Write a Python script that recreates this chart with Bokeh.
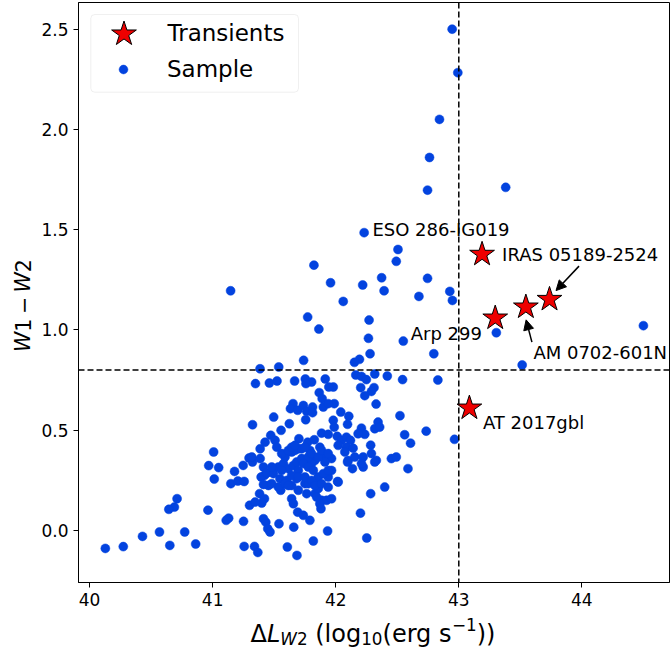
import math
from bokeh.plotting import figure
from bokeh.layouts import row, column
from bokeh.models import (Span, Label, Legend, LegendItem, BoxAnnotation, Arrow,
                          NormalHead, Range1d, FixedTicker, PrintfTickFormatter)
from bokeh.embed import file_html
from bokeh.resources import INLINE

# ---------------- data ----------------
sample_dL = [
    42.946, 42.992, 42.843, 42.762, 42.746, 43.381, 42.231, 42.506, 42.492, 41.823,
    41.146, 41.958, 42.219, 42.373, 42.393, 42.746, 42.676, 42.927, 42.948, 42.061,
    41.772, 41.863, 42.271, 42.266, 42.549, 42.279, 42.797, 41.739, 42.193, 42.152,
    41.385, 41.537, 44.500, 43.305, 43.515, 42.163, 42.209, 42.249, 42.317, 42.419,
    42.543, 42.830, 42.203, 42.311, 42.290, 42.236, 42.328, 41.980, 41.988, 42.041,
    42.106, 42.522, 41.980, 41.988, 42.096, 42.344, 42.317, 42.357, 42.209, 42.236,
    42.735, 42.560, 42.608, 42.965, 42.284, 41.348, 41.461, 41.523, 41.666, 41.753,
    41.804, 41.758, 41.915, 41.944, 41.866, 41.890, 41.899, 41.939, 41.653, 41.632,
    41.691, 41.737, 41.764, 41.812, 41.812, 41.756, 41.324, 41.496, 41.556, 41.623,
    41.472, 41.507, 41.521, 41.426, 41.386, 41.008, 40.968, 41.049, 41.013, 41.178,
    41.148, 41.205, 41.256, 41.296, 41.324, 41.248, 41.413, 41.421, 41.394, 41.453,
    41.413, 41.553, 41.381, 41.421, 41.399, 41.300, 41.345, 40.711, 40.689, 40.644,
    40.962, 41.130, 41.110, 41.251, 41.413, 41.432, 41.539, 41.448, 41.466, 40.568,
    40.430, 40.773, 40.652, 40.862, 40.274, 40.128, 41.256, 41.340, 41.367, 41.440,
    41.494, 41.534, 41.575, 41.615, 41.656, 41.696, 41.547, 41.602, 41.642, 41.683,
    41.480, 41.642, 41.656, 41.691, 41.659, 41.607, 41.685, 41.588, 41.642, 41.696,
    41.683, 41.885, 41.939, 42.012, 42.047, 42.087, 42.120, 42.020, 42.087, 42.141,
    41.701, 41.772, 41.826, 41.669, 41.723, 41.790, 41.871, 41.912, 41.966, 41.831,
    41.778, 41.723, 42.074, 42.101, 42.155, 42.223, 42.290, 42.330, 42.452, 42.492,
    42.136, 42.223, 41.804, 41.912, 41.966, 41.939, 42.020, 42.096, 42.209, 42.317,
    42.587, 42.398, 42.284, 42.201, 42.252, 41.934, 41.818, 41.750, 41.764, 41.831,
    41.858, 41.885, 41.926, 41.966, 41.880, 41.737, 41.790, 42.182, 42.015, 41.871,
    41.845, 41.845, 41.778, 41.534, 41.588, 41.561, 41.615, 41.642, 41.669, 41.750,
    41.777, 41.804, 41.858, 41.885, 41.939, 41.737, 41.777, 41.818, 41.858, 41.899,
    41.939, 41.561, 41.642, 41.696, 41.750, 41.804, 41.831, 41.885, 41.939, 41.480,
    41.615, 41.696, 41.318, 41.386,
]
sample_w12 = [
    2.500, 2.283, 2.050, 1.860, 1.697, 1.711, 1.485, 1.401, 1.342, 1.323,
    1.195, 1.235, 1.224, 1.260, 1.195, 1.257, 1.167, 1.192, 1.147, 1.142,
    1.064, 1.004, 1.049, 0.958, 0.944, 0.881, 0.881, 0.848, 0.853, 0.838,
    0.806, 0.815, 1.021, 0.986, 0.825, 0.775, 0.768, 0.752, 0.780, 0.770,
    0.752, 0.750, 0.712, 0.712, 0.693, 0.672, 0.630, 0.715, 0.632, 0.590,
    0.569, 0.572, 0.549, 0.515, 0.529, 0.540, 0.507, 0.515, 0.510, 0.479,
    0.495, 0.477, 0.435, 0.454, 0.425, 0.732, 0.735, 0.745, 0.745, 0.755,
    0.740, 0.732, 0.755, 0.715, 0.687, 0.657, 0.615, 0.632, 0.632, 0.607,
    0.599, 0.623, 0.594, 0.615, 0.587, 0.552, 0.527, 0.565, 0.499, 0.532,
    0.474, 0.449, 0.415, 0.440, 0.407, 0.391, 0.323, 0.313, 0.256, 0.294,
    0.233, 0.246, 0.244, 0.361, 0.341, 0.324, 0.316, 0.274, 0.266, 0.224,
    0.229, 0.200, 0.183, 0.158, 0.136, 0.125, 0.141, 0.158, 0.116, 0.105,
    0.101, 0.061, 0.050, 0.045, 0.058, 0.041, 0.033, 0.008, -0.008, -0.008,
    -0.030, -0.008, -0.075, -0.068, -0.081, -0.090, -0.080, -0.080, -0.110, 0.286,
    0.283, 0.316, 0.333, 0.308, 0.324, 0.299, 0.258, 0.249, 0.224, 0.258,
    0.233, 0.158, 0.133, 0.091, 0.016, -0.083, -0.125, 0.366, 0.391, 0.407,
    0.341, 0.485, 0.479, 0.469, 0.449, 0.465, 0.449, 0.424, 0.415, 0.410,
    0.457, 0.440, 0.452, 0.399, 0.407, 0.399, 0.415, 0.374, 0.358, 0.349,
    0.349, 0.358, 0.391, 0.349, 0.366, 0.366, 0.383, 0.349, 0.358, 0.366,
    0.308, 0.316, 0.333, 0.341, 0.299, 0.266, 0.241, 0.341, 0.333, 0.341,
    0.308, 0.216, 0.183, 0.086, -0.038, -0.003, -0.053, 0.233, 0.183, 0.183,
    0.208, 0.150, 0.150, 0.158, 0.108, 0.075, 0.050, 0.482, 0.244, 0.133,
    0.166, 0.233, 0.233, 0.216, 0.233, 0.383, 0.399, 0.415, 0.424, 0.415,
    0.366, 0.383, 0.366, 0.399, 0.383, 0.333, 0.316, 0.299, 0.266, 0.283,
    0.299, 0.299, 0.274, 0.266, 0.266, 0.249, 0.224, 0.233, 0.216, 0.316,
    0.224, 0.200, 0.366, 0.358,
]
transient_dL = [43.296, 43.545, 43.737, 43.189, 43.086]
transient_w12 = [1.059, 1.114, 1.152, 1.377, 0.610]

x_ticks = [40, 41, 42, 43, 44]
y_ticks = [0.0, 0.5, 1.0, 1.5, 2.0, 2.5]
dL_cut = 43.0
w12_cut = 0.8

note_text = ["ESO 286-IG019", "IRAS 05189-2524", "Arp 299", "AM 0702-601N", "AT 2017gbl"]

FONT = "DejaVu Sans"
BLUE = "#0343df"

# ---------------- main figure ----------------
p = figure(width=632, height=616,
           x_range=Range1d(39.91, 44.712), y_range=Range1d(-0.26, 2.633),
           output_backend="svg", toolbar_location=None,
           min_border_left=38, min_border_right=1, min_border_top=2, min_border_bottom=34,
           background_fill_color="white", border_fill_color="white")
p.xgrid.visible = False
p.ygrid.visible = False
p.outline_line_color = "black"
p.outline_line_width = 1
p.outline_line_alpha = 1

for ax in (p.xaxis[0], p.yaxis[0]):
    ax.axis_line_color = "black"
    ax.major_tick_line_color = "black"
    ax.major_tick_out = 5
    ax.major_tick_in = 0
    ax.minor_tick_line_color = None
    ax.major_label_text_font = FONT
    ax.major_label_text_font_size = "17px"
    ax.major_label_text_color = "black"
    ax.major_label_standoff = 5
p.xaxis[0].ticker = FixedTicker(ticks=x_ticks)
p.yaxis[0].ticker = FixedTicker(ticks=y_ticks)
p.yaxis[0].formatter = PrintfTickFormatter(format="%.1f")

sample_r = p.scatter(sample_dL, sample_w12, size=9, fill_color=BLUE, line_color=BLUE, line_width=0.5)

for loc, dim in ((dL_cut, "height"), (w12_cut, "width")):
    p.add_layout(Span(location=loc, dimension=dim, line_color="black",
                      line_width=1.5, line_dash="6 3"))

star_r = p.scatter(transient_dL, transient_w12, marker="star", size=26,
                   fill_color="#ee0000", line_color="black", line_width=1)

# ---------------- annotations ----------------
note_pos = [(42.298, 1.501, "left"), (43.352, 1.377, "left"), (43.188, 0.984, "right"),
            (43.606, 0.889, "left"), (43.196, 0.539, "left")]
for t, (x, y, al) in zip(note_text, note_pos):
    p.add_layout(Label(x=x, y=y, text=t, text_font=FONT, text_font_size="18px",
                       text_align=al, text_baseline="middle", text_color="black"))

for (xs, ys, xe, ye) in ((43.594, 0.939, 43.547, 1.050), (43.977, 1.318, 43.790, 1.196)):
    p.add_layout(Arrow(x_start=xs, y_start=ys, x_end=xe, y_end=ye,
                       line_color="black", line_width=1.5,
                       end=NormalHead(size=10, fill_color="black", line_color="black", line_width=1)))

# ---------------- legend ----------------
p.add_layout(BoxAnnotation(left=12.3, right=220, top=568, bottom=490.3,
                           left_units="screen", right_units="screen",
                           top_units="screen", bottom_units="screen",
                           fill_color="white", fill_alpha=0.8,
                           line_color="#cccccc", line_width=1, border_radius=4))
leg_a = Legend(items=[LegendItem(label="Transients", renderers=[star_r])],
               location=(12.5, 516.2), glyph_width=65, glyph_height=65,
               label_standoff=12, padding=0, margin=0, spacing=0,
               border_line_color=None, background_fill_alpha=0,
               label_text_font=FONT, label_text_font_size="23px", label_text_color="black")
leg_b = Legend(items=[LegendItem(label="Sample", renderers=[sample_r])],
               location=(34, 498.7), glyph_width=22, glyph_height=28, label_height=28,
               label_standoff=33, padding=0, margin=0, spacing=0,
               border_line_color=None, background_fill_alpha=0,
               label_text_font=FONT, label_text_font_size="23px", label_text_color="black")
p.add_layout(leg_a)
p.add_layout(leg_b)

# ---------------- axis titles (composed as real text) ----------------
ADV = {"Δ": 0.684, "L": 0.557, "W": 0.989, "0": 0.636, "1": 0.636, "2": 0.636,
       " ": 0.318, "(": 0.390, ")": 0.390, "l": 0.278, "o": 0.612, "g": 0.635,
       "e": 0.615, "r": 0.411, "s": 0.521, "−": 0.838}


def adv(s, fs):
    return sum(ADV[c] for c in s) * fs


def blank_fig(w, h):
    f = figure(width=w, height=h, x_axis_type=None, y_axis_type=None,
               x_range=Range1d(0, 1), y_range=Range1d(0, 1),
               output_backend="svg", toolbar_location=None, min_border=0,
               min_border_left=0, min_border_right=0, min_border_top=0, min_border_bottom=0,
               outline_line_color=None, background_fill_color="white",
               border_fill_color="white")
    f.xgrid.visible = False
    f.ygrid.visible = False
    return f


# x title below the plot
xfig = blank_fig(670, 32)
F = 24
S = 0.7 * F
xlab = [("Δ", F, "normal", 0), ("L", F, "italic", 0), ("W", S, "italic", -5),
        ("2", S, "normal", -5), (" ", F, None, 0), ("(log", F, "normal", 0),
        ("10", S, "normal", -5), ("(erg s", F, "normal", 0), ("−1", S, "normal", 9),
        ("))", F, "normal", 0)]
cx = 250.0
for txt, fs, style, dy in xlab:
    if style is not None:
        xfig.add_layout(Label(x=cx, y=15 + dy, x_units="screen", y_units="screen", text=txt,
                              text_font=FONT, text_font_size=f"{fs:.1f}px",
                              text_font_style=style, text_align="left",
                              text_baseline="alphabetic", text_color="black"))
    cx += adv(txt, fs)

# y title left of the plot (pieces centred along the vertical)
yfig = blank_fig(38, 616)
FY = 20.5
ylab = [("W", "italic"), ("1", "normal"), ("  ", None), ("−", "normal"), ("  ", None),
        ("W", "italic"), ("2", "normal")]
gap = 0.22 * FY
total = sum(adv(t, FY) if s else gap for t, s in ylab)
cy = 277 - total / 2
for txt, style in ylab:
    if style is not None:
        w = adv(txt, FY)
        yfig.add_layout(Label(x=22, y=cy + w / 2, x_units="screen", y_units="screen", text=txt,
                              angle=math.pi / 2, text_font=FONT, text_font_size=f"{FY}px",
                              text_font_style=style, text_align="center",
                              text_baseline="middle", text_color="black"))
        cy += w
    else:
        cy += gap

layout = column(row(yfig, p, spacing=0), xfig, spacing=0)
open("out.html", "w").write(file_html(layout, INLINE))
